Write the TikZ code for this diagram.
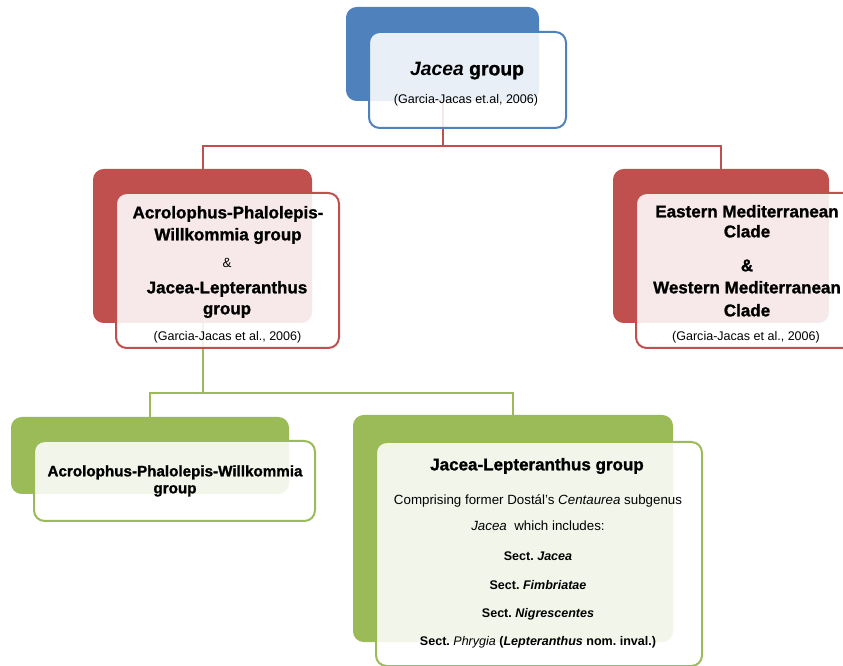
\documentclass[tikz,border=0pt]{standalone}
\usepackage{fontspec}
\setmainfont{Liberation Sans}
\newfontfamily\heavyfont{Liberation Sans}[BoldFeatures={FakeBold=1.2}]
\definecolor{cblue}{HTML}{4F81BD}
\definecolor{cred}{HTML}{C0504D}
\definecolor{cgreen}{HTML}{9BBB59}
\frenchspacing
\begin{document}
\begin{tikzpicture}[x=0.75pt,y=-0.75pt,
  backbox/.style={draw=none, fill=#1, rounded corners=8pt, inner sep=0},
  frontbox/.style={draw=#1, line width=1.5pt, fill=white, fill opacity=0.88, rounded corners=8pt, inner sep=0},
  lbl/.style={inner sep=0, text height=0.9em, text depth=0.1em, align=center},
  bigtitle/.style={lbl, font=\fontsize{14.5pt}{17pt}\selectfont\heavyfont\bfseries},
  title/.style={lbl, font=\fontsize{12.75pt}{15pt}\selectfont\heavyfont\bfseries},
  smalltitle/.style={lbl, font=\fontsize{11.4pt}{13pt}\selectfont\heavyfont\bfseries},
  cite/.style={lbl, font=\fontsize{9.4pt}{11pt}\selectfont},
  body/.style={lbl, font=\fontsize{10pt}{12pt}\selectfont},
  sect/.style={lbl, font=\fontsize{9.4pt}{11pt}\selectfont\bfseries},
  conn/.style={line width=1.5pt, draw=#1}]
\useasboundingbox (0,0) rectangle (843,666);
\clip (0,0) rectangle (843,666);

% back boxes
\node[backbox=cblue, minimum width=144.75pt, minimum height=70.5pt] (topback) at (442.5,54) {};
\node[backbox=cred, minimum width=164.25pt, minimum height=115.5pt] (leftback) at (202.5,246) {};
\node[backbox=cred, minimum width=162pt, minimum height=115.5pt] (rightback) at (721,246) {};
\node[backbox=cgreen, minimum width=208.5pt, minimum height=57.75pt] (gleftback) at (150,455.5) {};
\node[backbox=cgreen, minimum width=240pt, minimum height=170.25pt] (grightback) at (513,528.5) {};

% connectors
\coordinate (redbus) at (442.5,146);
\coordinate (greenbus) at (202.5,393);
\draw[conn=cred] (topback.south) -- (redbus) -| (leftback.north);
\draw[conn=cred] (redbus) -| (rightback.north);
\draw[conn=cgreen] (leftback.south) -- (greenbus) -| (gleftback.north);
\draw[conn=cgreen] (greenbus) -| (grightback.north);

% front boxes
\node[frontbox=cblue, minimum width=147.75pt, minimum height=72pt] (topfront) at (467.5,80) {};
\node[frontbox=cred, minimum width=167.25pt, minimum height=116.25pt] (leftfront) at (227.5,270.5) {};
\node[frontbox=cred, minimum width=166.5pt, minimum height=116.25pt] (rightfront) at (747,270.5) {};
\node[frontbox=cgreen, minimum width=210.75pt, minimum height=60pt] (gleftfront) at (174.5,481) {};
\node[frontbox=cgreen, minimum width=244.5pt, minimum height=168pt] (grightfront) at (539,554) {};

% texts: top
\node[bigtitle] (t0a) at (467,70) {\textit{Jacea} group};
\node[cite] (t0b) at (466,98) {(Garcia-Jacas et.al, 2006)};

% left red
\node[title] (t1a) at (228,213) {Acrolophus-Phalolepis-};
\node[title] (t1b) at (228,235) {Willkommia group};
\node[body] (t1c) at (227,262) {\&};
\node[title] (t1d) at (227,288) {Jacea-Lepteranthus};
\node[title] (t1e) at (227,309) {group};
\node[cite] (t1f) at (227.5,335) {(Garcia-Jacas et al., 2006)};

% right red
\node[title] (t2a) at (747,212) {Eastern Mediterranean};
\node[title] (t2b) at (747,232) {Clade};
\node[title] (t2c) at (747,266) {\&};
\node[title] (t2d) at (747,288) {Western Mediterranean};
\node[title] (t2e) at (747,311) {Clade};
\node[cite] (t2f) at (746,335) {(Garcia-Jacas et al., 2006)};

% left green
\node[smalltitle] (t3a) at (175,471) {Acrolophus-Phalolepis-Willkommia};
\node[smalltitle] (t3b) at (175,488) {group};

% right green
\node[title] (t4a) at (537,465) {Jacea-Lepteranthus group};
\node[body] (t4b) at (538,499) {Comprising former Dostál’s \textit{Centaurea} subgenus};
\node[body] (t4c) at (538,525) {\textit{Jacea}\ \ which includes:};
\node[sect] (t4d) at (538,555) {Sect. \textit{Jacea}};
\node[sect] (t4e) at (538,584) {Sect. \textit{Fimbriatae}};
\node[sect] (t4f) at (538,612) {Sect. \textit{Nigrescentes}};
\node[sect] (t4g) at (538,640) {Sect. {\mdseries\itshape Phrygia} (\textit{Lepteranthus} nom. inval.)};
\end{tikzpicture}
\end{document}
